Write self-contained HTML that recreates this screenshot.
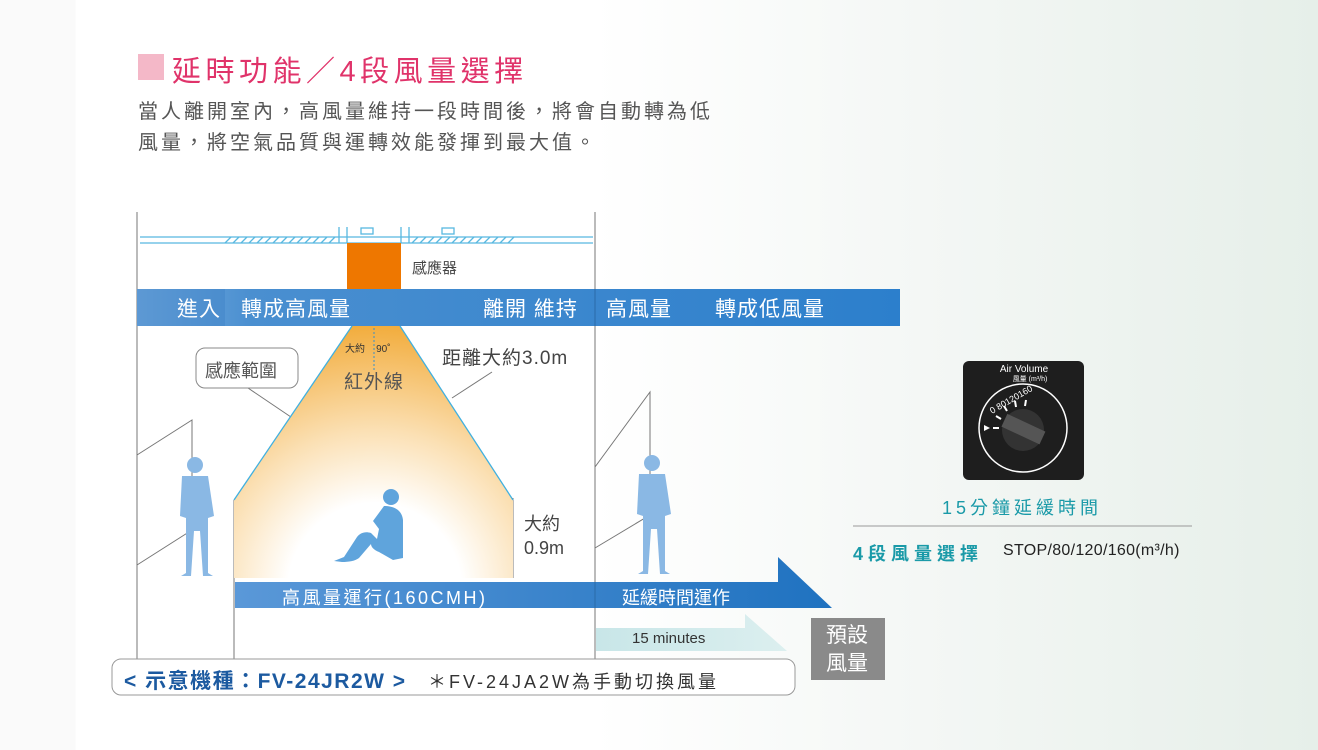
<!DOCTYPE html>
<html><head><meta charset="utf-8"><style>
body{margin:0;width:1318px;height:750px;overflow:hidden;font-family:"Liberation Sans","Noto Sans CJK TC",sans-serif;}
.bg{position:absolute;left:0;top:0;width:1318px;height:750px;background:linear-gradient(90deg,#fafafa 0,#fafafa 75px,#ffffff 76px,#ffffff 45%,#f4f7f5 70%,#e6efe9 100%);}
.t{position:absolute;white-space:nowrap;}
</style></head><body>
<div class="bg"></div>
<div style="position:absolute;left:138px;top:54px;width:26px;height:26px;background:#f4b8c8"></div>
<div class="t" style="left:172px;top:48px;font-size:29px;color:#e0336a;letter-spacing:4.5px">延時功能／4段風量選擇</div>
<div class="t" style="left:138px;top:97px;font-size:20px;color:#555;line-height:31px;letter-spacing:3px">當人離開室內，高風量維持一段時間後，將會自動轉為低<br>風量，將空氣品質與運轉效能發揮到最大值。</div>
<svg style="position:absolute;left:0;top:0" width="1318" height="750">
<defs>
<radialGradient id="cone" cx="375" cy="590" r="290" gradientUnits="userSpaceOnUse">
<stop offset="0.3" stop-color="#fff"/><stop offset="0.55" stop-color="#fbe0b4"/><stop offset="1" stop-color="#f0a020"/></radialGradient>
<linearGradient id="bar" x1="0" x2="1"><stop offset="0" stop-color="#7aaee0"/><stop offset="0.15" stop-color="#4a8fd0"/><stop offset="1" stop-color="#2c7fcc"/></linearGradient>
<linearGradient id="bar2" x1="0" x2="1"><stop offset="0" stop-color="#5a98d8"/><stop offset="1" stop-color="#1f72c0"/></linearGradient>
<linearGradient id="bar3" x1="0" x2="1"><stop offset="0" stop-color="#c8e6e8"/><stop offset="1" stop-color="#dcefef"/></linearGradient>
</defs>
<g stroke="#777" stroke-width="1" fill="none">
<line x1="137" y1="212" x2="137" y2="660"/><line x1="595" y1="212" x2="595" y2="660"/>
<line x1="234" y1="500" x2="234" y2="660"/>
<line x1="513" y1="498" x2="513" y2="578"/>
<polyline points="137,455 192,420 192,530 137,565"/>
<polyline points="595,467 650,392 650,515 595,548"/>
<line x1="248" y1="388" x2="325" y2="440"/>
<line x1="452" y1="398" x2="492" y2="372"/>
</g>
<g stroke="#58b8e0" stroke-width="1.3" fill="none">
<line x1="140" y1="243" x2="593" y2="243"/><line x1="340" y1="237" x2="593" y2="237"/><line x1="140" y1="237" x2="340" y2="237"/>
<line x1="339" y1="227" x2="339" y2="243"/><line x1="347" y1="227" x2="347" y2="243"/>
<line x1="401" y1="227" x2="401" y2="243"/><line x1="409" y1="227" x2="409" y2="243"/>
<rect x="361" y="228" width="12" height="6"/><rect x="442" y="228" width="12" height="6"/>
<path d="M225 243l6-6M233 243l6-6M241 243l6-6M249 243l6-6M257 243l6-6M265 243l6-6M273 243l6-6M281 243l6-6M289 243l6-6M297 243l6-6M305 243l6-6M313 243l6-6M321 243l6-6M329 243l6-6M412 243l6-6M420 243l6-6M428 243l6-6M436 243l6-6M444 243l6-6M452 243l6-6M460 243l6-6M468 243l6-6M476 243l6-6M484 243l6-6M492 243l6-6M500 243l6-6M508 243l6-6"/>
</g>
<rect x="347" y="243" width="54" height="46" fill="#ee7700"/>
<polygon points="352,326 400,326 513,500 513,578 234,578 234,500" fill="url(#cone)"/>
<line x1="352" y1="326" x2="234" y2="500" stroke="#40b0e0" stroke-width="1.3"/>
<line x1="400" y1="326" x2="513" y2="500" stroke="#40b0e0" stroke-width="1.3"/>
<line x1="374" y1="328" x2="374" y2="372" stroke="#3a8fc8" stroke-dasharray="2 2"/>
<rect x="137" y="289" width="763" height="37" fill="url(#bar)"/>
<rect x="137" y="289" width="88" height="37" fill="#3f84c8" opacity="0.5"/>
<line x1="595" y1="289" x2="595" y2="326" stroke="#2a6aa8"/>
<rect x="196" y="348" width="102" height="40" rx="9" fill="#fff" stroke="#888"/>
<polygon points="235,582 778,582 778,557 832,608 235,608" fill="url(#bar2)"/>
<line x1="595" y1="582" x2="595" y2="608" stroke="#2a6aa8"/>
<polygon points="596,628 745,628 745,614 787,651 596,651" fill="url(#bar3)"/>
<rect x="112" y="659" width="683" height="36" rx="9" fill="#fff" stroke="#999"/>
<rect x="811" y="618" width="74" height="62" fill="#8a8a8a"/>
<g fill="#8ab8e4">
<circle cx="195" cy="465" r="8"/><path d="M182 476h26l6 40-6 2v55l5 3h-10l-3-45h-6l-3 45h-10l5-3v-55l-6-2z"/>
<circle cx="652" cy="463" r="8"/><path d="M639 474h26l6 40-6 2v55l5 3h-10l-3-45h-6l-3 45h-10l5-3v-55l-6-2z"/>
</g>
<g fill="#5fa4dc">
<circle cx="391" cy="497" r="8"/><path d="M384 506c10 0 18 4 19 14v38l-10 2-14-8c-5-2-8-5-8-8l-12 14c-4 3-10 4-17 4l-8-1 10-4 13-20c3-4 8-6 14-4l6 6 2-10-6-8z"/>
</g>
<line x1="853" y1="526" x2="1192" y2="526" stroke="#999"/>
<rect x="963" y="361" width="121" height="119" rx="6" fill="#1e1e1e"/>
<circle cx="1023" cy="428" r="44" fill="none" stroke="#fff" stroke-width="1.5"/>
<circle cx="1023" cy="430" r="21" fill="#333"/>
<rect x="1002" y="422" width="42" height="14" fill="#555" transform="rotate(25 1023 430)"/>
<polygon points="984,425 990,428 984,431" fill="#fff"/>
<g stroke="#fff" stroke-width="2"><line x1="993" y1="428" x2="999" y2="428"/><line x1="996" y1="416" x2="1001" y2="419"/><line x1="1004" y1="406" x2="1007" y2="411"/><line x1="1015" y1="401" x2="1016" y2="407"/><line x1="1026" y1="400" x2="1025" y2="406"/></g>
<text x="1024" y="372" fill="#fff" font-size="10" text-anchor="middle" font-family="Liberation Sans,sans-serif">Air Volume</text>
<text x="1030" y="381" fill="#fff" font-size="7" text-anchor="middle" font-family="Liberation Sans,Noto Sans CJK TC,sans-serif">風量 (m³/h)</text>
<text x="992" y="414" fill="#fff" font-size="9" font-family="Liberation Sans,sans-serif" transform="rotate(-30 992 414)">0 80120160</text>
</svg>
<div class="t" style="left:412px;top:257px;font-size:15px;color:#444">感應器</div>
<div class="t" style="left:177px;top:293px;font-size:21px;color:#fff;letter-spacing:1px">進入</div>
<div class="t" style="left:241px;top:293px;font-size:21px;color:#fff;letter-spacing:1px">轉成高風量</div>
<div class="t" style="left:483px;top:293px;font-size:21px;color:#fff;letter-spacing:1px">離開 維持</div>
<div class="t" style="left:606px;top:293px;font-size:21px;color:#fff;letter-spacing:1px">高風量</div>
<div class="t" style="left:715px;top:293px;font-size:21px;color:#fff;letter-spacing:1px">轉成低風量</div>
<div class="t" style="left:345px;top:340px;font-size:10px;color:#333">大約 &nbsp;&nbsp;&nbsp;90˚</div>
<div class="t" style="left:344px;top:367px;font-size:19px;color:#555;letter-spacing:1px">紅外線</div>
<div class="t" style="left:442px;top:343px;font-size:19px;color:#444;letter-spacing:1px">距離大約3.0m</div>
<div class="t" style="left:205px;top:357px;font-size:18px;color:#555">感應範圍</div>
<div class="t" style="left:524px;top:512px;font-size:18px;color:#444;line-height:24px">大約<br>0.9m</div>
<div class="t" style="left:282px;top:584px;font-size:18px;color:#fff;letter-spacing:2.5px">高風量運行(160CMH)</div>
<div class="t" style="left:622px;top:584px;font-size:18px;color:#fff">延緩時間運作</div>
<div class="t" style="left:632px;top:630px;font-size:15px;color:#333">15 minutes</div>
<div class="t" style="left:826px;top:622px;font-size:21px;color:#fff;line-height:28px">預設<br>風量</div>
<div class="t" style="left:124px;top:665px;font-size:21px;color:#1c5aa0;font-weight:bold;letter-spacing:1.5px">&lt; 示意機種：FV-24JR2W &gt;</div>
<div class="t" style="left:428px;top:668px;font-size:18px;color:#333;letter-spacing:3px">＊FV-24JA2W為手動切換風量</div>
<div class="t" style="left:942px;top:494px;font-size:18px;color:#1a9aa8;letter-spacing:4px">15分鐘延緩時間</div>
<div class="t" style="left:853px;top:540px;font-size:18px;color:#1a9aa8;letter-spacing:5px;font-weight:bold">4段風量選擇</div>
<div class="t" style="left:1003px;top:542px;font-size:16px;color:#222;letter-spacing:0.3px">STOP/80/120/160(m³/h)</div>
</body></html>
